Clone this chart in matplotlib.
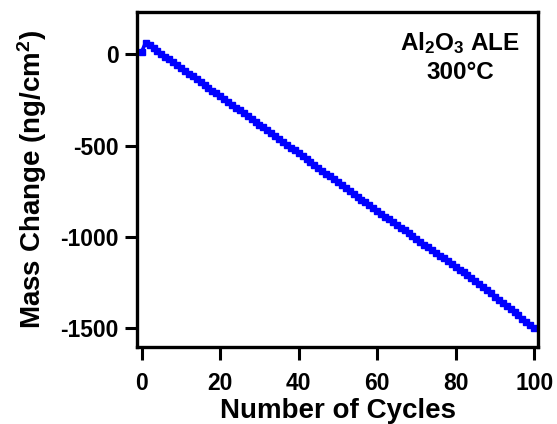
import matplotlib
matplotlib.use("Agg")
import matplotlib.pyplot as plt

plt.rcParams['font.family'] = ['Liberation Sans', 'DejaVu Sans']
plt.rcParams['font.weight'] = 'bold'
plt.rcParams['axes.unicode_minus'] = False
plt.rcParams['mathtext.fontset'] = 'custom'
plt.rcParams['mathtext.rm'] = 'Liberation Sans:bold'
plt.rcParams['mathtext.bf'] = 'Liberation Sans:bold'
plt.rcParams['mathtext.default'] = 'bf'

cycles = list(range(0, 101))
mass_change = [
    15, 65, 49, 34, 18, 3, -13, -28, -44, -59,
    -75, -90, -106, -121, -137, -152, -168, -183, -199, -214,
    -230, -245, -261, -276, -292, -307, -323, -338, -354, -369,
    -385, -401, -417, -432, -448, -464, -480, -496, -511, -527,
    -543, -559, -575, -590, -606, -622, -638, -654, -669, -685,
    -701, -717, -733, -748, -764, -780, -796, -812, -827, -843,
    -859, -874, -890, -905, -920, -936, -951, -966, -981, -997,
    -1012, -1027, -1043, -1058, -1073, -1089, -1104, -1119, -1134, -1150,
    -1165, -1180, -1196, -1211, -1226, -1241, -1258, -1276, -1293, -1310,
    -1328, -1345, -1362, -1379, -1397, -1414, -1431, -1449, -1466, -1483,
    -1500,
]
xticks = [0, 20, 40, 60, 80, 100]
yticks = [0, -500, -1000, -1500]

fig = plt.figure(figsize=(5.57, 4.24), dpi=100)
ax = fig.add_axes([0.246, 0.182, 0.720, 0.790])

ax.plot(cycles, mass_change, color='#0000ff', lw=2.6, marker='s', ms=4.2,
        mec='#0000ff', mfc='#0000ff')

ax.set_xlim(-1.2, 101.0)
ax.set_ylim(-1604, 233)
ax.set_xticks(xticks)
ax.set_yticks(yticks)
ax.tick_params(direction='out', length=9, width=2.2, labelsize=16.5)
ax.tick_params(axis='x', pad=9)
ax.tick_params(axis='y', pad=4)
for s in ax.spines.values():
    s.set_linewidth(2.4)

ax.set_xlabel("Number of Cycles", fontsize=20, fontweight='bold', labelpad=2)
ax.set_ylabel("Mass Change (ng/cm$^2$)", fontsize=20, fontweight='bold', labelpad=8)

ax.text(0.805, 0.887, r"Al$_2$O$_3$ ALE", transform=ax.transAxes, ha='center',
        va='baseline', fontsize=17.5, fontweight='bold')
ax.text(0.805, 0.800, "300°C", transform=ax.transAxes, ha='center',
        va='baseline', fontsize=17.5, fontweight='bold')

fig.savefig("out.png", dpi=100)
